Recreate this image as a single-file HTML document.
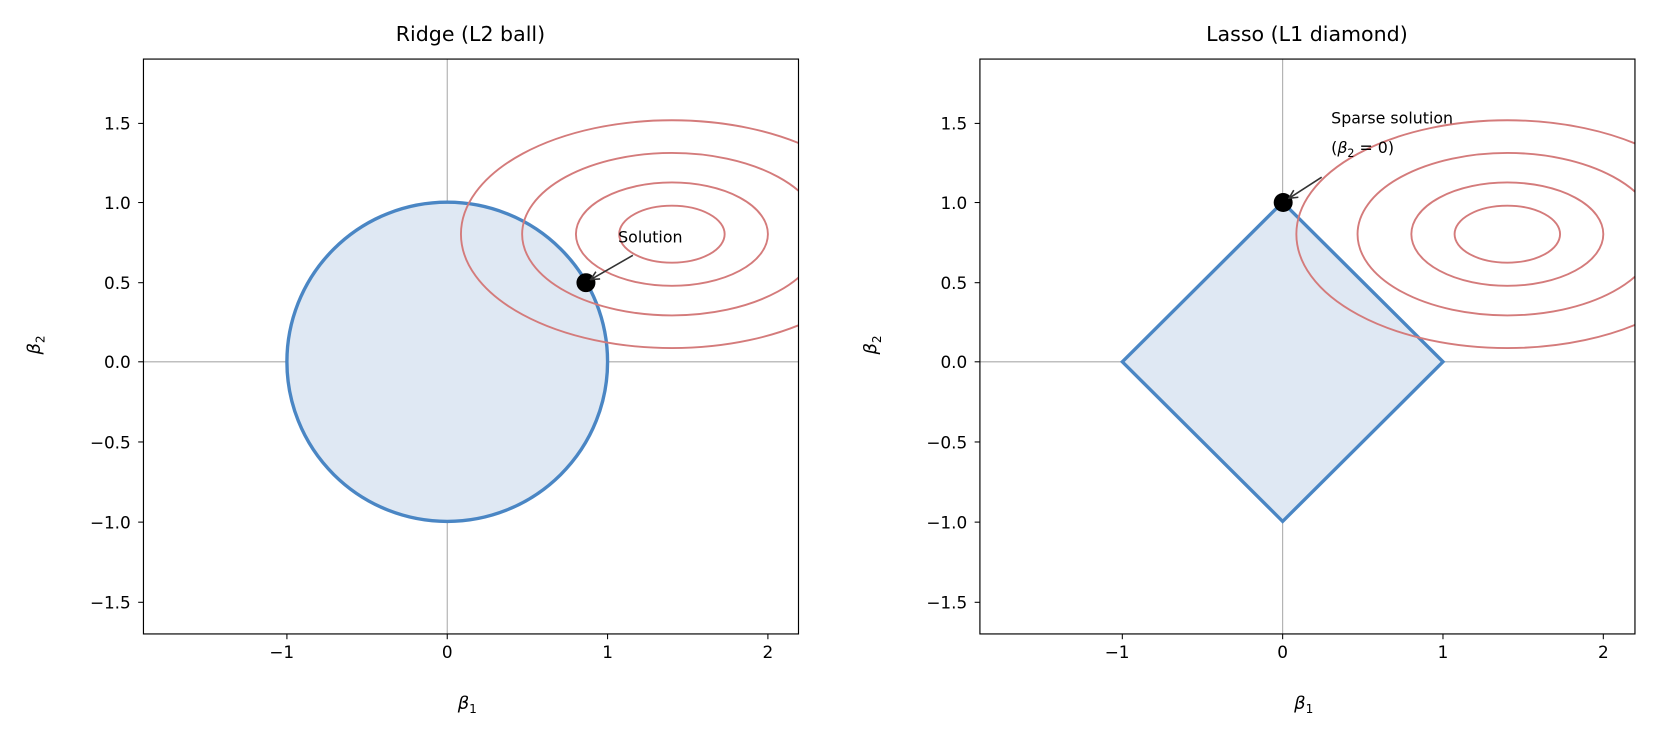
<!DOCTYPE html>
<html><head><meta charset="utf-8"><style>
html,body{margin:0;padding:0;background:#fff;}
svg{display:block;font-family:"DejaVu Sans","Liberation Sans",sans-serif;}
</style></head><body>
<svg width="1655" height="739" viewBox="0 0 1569 700.6" xmlns="http://www.w3.org/2000/svg">
<defs>
<clipPath id="cl"><rect x="136" y="56" width="621" height="545"/></clipPath>
<clipPath id="cr"><rect x="929" y="56" width="621" height="545"/></clipPath>
<marker id="ar" markerWidth="10" markerHeight="10" refX="9" refY="5" orient="auto" markerUnits="userSpaceOnUse">
<path d="M1,1 L9,5 L1,9" fill="none" stroke="#333" stroke-width="1.5"/></marker>
</defs>

<!-- LEFT -->
<g clip-path="url(#cl)">
<line x1="136" y1="343" x2="757" y2="343" stroke="#aaa" stroke-width="1"/>
<line x1="424" y1="56" x2="424" y2="601" stroke="#aaa" stroke-width="1"/>
<ellipse cx="424" cy="343" rx="152" ry="151.3" fill="#dfe8f3" stroke="#4a86c4" stroke-width="3.2"/>
<g fill="none" stroke="#d47b7b" stroke-width="1.8">
<ellipse cx="637" cy="222" rx="50" ry="27"/>
<ellipse cx="637" cy="222" rx="91" ry="49"/>
<ellipse cx="637" cy="222" rx="142" ry="77"/>
<ellipse cx="637" cy="222" rx="200" ry="108"/>
</g>
<circle cx="555.5" cy="268" r="9" fill="#000"/>
<line x1="600" y1="242" x2="560" y2="265" stroke="#333" stroke-width="1.5" marker-end="url(#ar)"/>
<text x="586" y="230" font-size="15">Solution</text>
</g>
<rect x="136" y="56" width="621" height="545" fill="none" stroke="#000" stroke-width="1.1"/>
<text x="446" y="39" font-size="19.5" text-anchor="middle">Ridge (L2 ball)</text>
<g font-size="16" text-anchor="end">
<text x="124" y="123">1.5</text><text x="124" y="198">1.0</text><text x="124" y="274">0.5</text>
<text x="124" y="349">0.0</text><text x="124" y="425">−0.5</text><text x="124" y="501">−1.0</text><text x="124" y="577">−1.5</text>
</g>
<g stroke="#000" stroke-width="1">
<line x1="131" y1="117" x2="136" y2="117"/><line x1="131" y1="192" x2="136" y2="192"/><line x1="131" y1="268" x2="136" y2="268"/>
<line x1="131" y1="343" x2="136" y2="343"/><line x1="131" y1="419" x2="136" y2="419"/><line x1="131" y1="495" x2="136" y2="495"/><line x1="131" y1="571" x2="136" y2="571"/>
<line x1="272" y1="601" x2="272" y2="606"/><line x1="424" y1="601" x2="424" y2="606"/><line x1="576" y1="601" x2="576" y2="606"/><line x1="728" y1="601" x2="728" y2="606"/>
</g>
<g font-size="16" text-anchor="middle">
<text x="267" y="624">−1</text><text x="424" y="624">0</text><text x="576" y="624">1</text><text x="728" y="624">2</text>
</g>
<text x="443" y="672" font-size="17" text-anchor="middle" font-style="italic">β<tspan font-size="11.5" dy="4" font-style="normal">1</tspan></text>
<text transform="translate(38,327) rotate(-90)" font-size="17" text-anchor="middle" font-style="italic">β<tspan font-size="11.5" dy="4" font-style="normal">2</tspan></text>

<!-- RIGHT -->
<g clip-path="url(#cr)">
<line x1="929" y1="343" x2="1550" y2="343" stroke="#aaa" stroke-width="1"/>
<line x1="1216" y1="56" x2="1216" y2="601" stroke="#aaa" stroke-width="1"/>
<polygon points="1064,343 1216,191.7 1368,343 1216,494.3" fill="#dfe8f3" stroke="#4a86c4" stroke-width="3.2" stroke-linejoin="miter"/>
<g fill="none" stroke="#d47b7b" stroke-width="1.8">
<ellipse cx="1429" cy="222" rx="50" ry="27"/>
<ellipse cx="1429" cy="222" rx="91" ry="49"/>
<ellipse cx="1429" cy="222" rx="142" ry="77"/>
<ellipse cx="1429" cy="222" rx="200" ry="108"/>
</g>
<circle cx="1216.5" cy="192" r="9" fill="#000"/>
<line x1="1253" y1="168" x2="1222" y2="188" stroke="#333" stroke-width="1.5" marker-end="url(#ar)"/>
<text x="1262" y="117" font-size="15">Sparse solution</text>
<text x="1262" y="145" font-size="15">(<tspan font-style="italic">β</tspan><tspan font-size="10.5" dy="4">2</tspan><tspan dy="-4"> = 0)</tspan></text>
</g>
<rect x="929" y="56" width="621" height="545" fill="none" stroke="#000" stroke-width="1.1"/>
<text x="1239" y="39" font-size="19.5" text-anchor="middle">Lasso (L1 diamond)</text>
<g font-size="16" text-anchor="end">
<text x="917" y="123">1.5</text><text x="917" y="198">1.0</text><text x="917" y="274">0.5</text>
<text x="917" y="349">0.0</text><text x="917" y="425">−0.5</text><text x="917" y="501">−1.0</text><text x="917" y="577">−1.5</text>
</g>
<g stroke="#000" stroke-width="1">
<line x1="924" y1="117" x2="929" y2="117"/><line x1="924" y1="192" x2="929" y2="192"/><line x1="924" y1="268" x2="929" y2="268"/>
<line x1="924" y1="343" x2="929" y2="343"/><line x1="924" y1="419" x2="929" y2="419"/><line x1="924" y1="495" x2="929" y2="495"/><line x1="924" y1="571" x2="929" y2="571"/>
<line x1="1064" y1="601" x2="1064" y2="606"/><line x1="1216" y1="601" x2="1216" y2="606"/><line x1="1368" y1="601" x2="1368" y2="606"/><line x1="1520" y1="601" x2="1520" y2="606"/>
</g>
<g font-size="16" text-anchor="middle">
<text x="1059" y="624">−1</text><text x="1216" y="624">0</text><text x="1368" y="624">1</text><text x="1520" y="624">2</text>
</g>
<text x="1236" y="672" font-size="17" text-anchor="middle" font-style="italic">β<tspan font-size="11.5" dy="4" font-style="normal">1</tspan></text>
<text transform="translate(831,327) rotate(-90)" font-size="17" text-anchor="middle" font-style="italic">β<tspan font-size="11.5" dy="4" font-style="normal">2</tspan></text>
</svg>
</body></html>
